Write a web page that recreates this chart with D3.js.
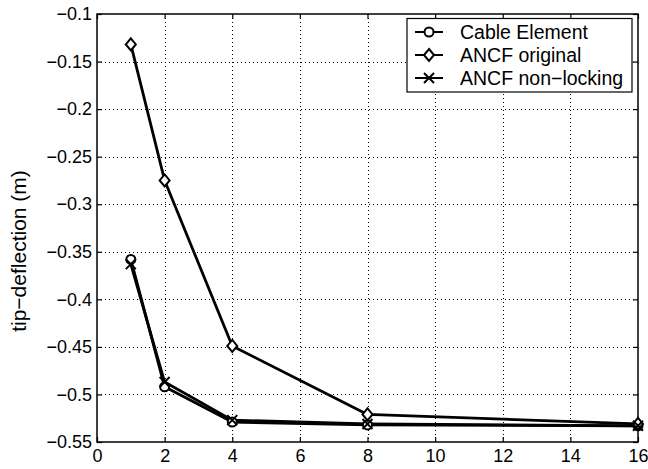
<!DOCTYPE html>
<meta charset='utf-8'>
<title>tip deflection</title>
<style>
html, body { margin: 0; padding: 0; background: #fff; }
text { font-family: 'Liberation Sans', Arial, sans-serif; fill: #000; }
</style>
<script src='https://d3js.org/d3.v7.min.js'></script>
<body>
<svg id='chart' width='648' height='469'></svg>
<script>
// Number of elements
var elements = [1, 2, 4, 8, 16];
var cableElement = [-0.358, -0.492, -0.529, -0.532, -0.533];
var ancfOriginal = [-0.132, -0.275, -0.449, -0.521, -0.531];
var ancfNonLocking = [-0.363, -0.487, -0.527, -0.531, -0.533];

var xTicks = [0, 2, 4, 6, 8, 10, 12, 14, 16];
var yTicks = [-0.55, -0.5, -0.45, -0.4, -0.35, -0.3, -0.25, -0.2, -0.15, -0.1];
var yTickLabels = ['\u22120.55', '\u22120.5', '\u22120.45', '\u22120.4', '\u22120.35', '\u22120.3', '\u22120.25', '\u22120.2', '\u22120.15', '\u22120.1'];
var seriesNames = ['Cable Element', 'ANCF original', 'ANCF non\u2212locking'];
var yLabel = 'tip\u2212deflection (m)';

// plot box (don't call it "top", that's window.top)
var pLeft = 97, pRight = 638, pTop = 14, pBottom = 442;
var svg = d3.select('#chart');

var x = d3.scaleLinear().domain([0, 16]).range([pLeft, pRight]);
var y = d3.scaleLinear().domain([-0.55, -0.1]).range([pBottom, pTop]);

// Grid
var grid = svg.append('g').attr('stroke', '#000').attr('stroke-width', 1)
  .attr('stroke-dasharray', '1,3');
grid.selectAll('.gx').data(xTicks.slice(1, -1)).enter().append('line')
  .attr('x1', d => Math.round(x(d)) + 0.5).attr('x2', d => Math.round(x(d)) + 0.5)
  .attr('y1', pTop).attr('y2', pBottom);
grid.selectAll('.gy').data(yTicks.slice(1, -1)).enter().append('line')
  .attr('y1', d => Math.round(y(d)) + 0.5).attr('y2', d => Math.round(y(d)) + 0.5)
  .attr('x1', pLeft).attr('x2', pRight);

// Axes (ticks inward, on all four sides)
var fontSize = 18;
var font = "'Liberation Sans', Arial, sans-serif";
svg.append('g').attr('transform', 'translate(0,' + pBottom + ')')
  .call(d3.axisBottom(x).tickValues(xTicks).tickSizeInner(-5).tickSizeOuter(0).tickPadding(7))
  .call(g => g.select('.domain').remove())
  .call(g => g.selectAll('text').style('font-size', fontSize + 'px').style('font-family', font));
svg.append('g').attr('transform', 'translate(0,' + pTop + ')')
  .call(d3.axisTop(x).tickValues(xTicks).tickSizeInner(-5).tickSizeOuter(0).tickFormat(''))
  .call(g => g.select('.domain').remove());
svg.append('g').attr('transform', 'translate(' + pLeft + ',0)')
  .call(d3.axisLeft(y).tickValues(yTicks).tickSizeInner(-5).tickSizeOuter(0).tickPadding(5)
    .tickFormat((d, i) => yTickLabels[i]))
  .call(g => g.select('.domain').remove())
  .call(g => g.selectAll('text').style('font-size', fontSize + 'px').style('font-family', font));
svg.append('g').attr('transform', 'translate(' + pRight + ',0)')
  .call(d3.axisRight(y).tickValues(yTicks).tickSizeInner(-5).tickSizeOuter(0).tickFormat(''))
  .call(g => g.select('.domain').remove());
svg.selectAll('.tick line').attr('stroke-width', 1.2);

// Box
svg.append('rect').attr('x', pLeft).attr('y', pTop)
  .attr('width', pRight - pLeft).attr('height', pBottom - pTop)
  .attr('fill', 'none').attr('stroke', '#000').attr('stroke-width', 1.5);

// Y label
svg.append('text')
  .attr('transform', 'translate(26,251)rotate(-90)')
  .attr('text-anchor', 'middle').style('font-size', '21px')
  .text(yLabel);

// Markers
function drawMarker(g, kind) {
  if (kind === 'circle') {
    g.append('circle').attr('r', 4.5).attr('fill', '#fff').attr('stroke', '#000').attr('stroke-width', 2);
  } else if (kind === 'diamond') {
    g.append('path').attr('d', 'M0,-6L5,0L0,6L-5,0Z').attr('fill', '#fff').attr('stroke', '#000').attr('stroke-width', 2);
  } else {
    g.append('path').attr('d', 'M-5,-5L5,5M-5,5L5,-5').attr('stroke', '#000').attr('stroke-width', 2);
  }
}

var series = [
  { name: seriesNames[0], values: cableElement, marker: 'circle' },
  { name: seriesNames[1], values: ancfOriginal, marker: 'diamond' },
  { name: seriesNames[2], values: ancfNonLocking, marker: 'cross' }
];

var line = d3.line().x((d, i) => x(elements[i])).y(d => y(d));
series.forEach(function (s) {
  svg.append('path').datum(s.values).attr('d', line)
    .attr('fill', 'none').attr('stroke', '#000').attr('stroke-width', 2.8)
    .attr('stroke-linejoin', 'round');
});
series.forEach(function (s) {
  s.values.forEach(function (v, i) {
    var g = svg.append('g').attr('transform', 'translate(' + x(elements[i]) + ',' + y(v) + ')');
    drawMarker(g, s.marker);
  });
});

// Legend
var lg = svg.append('g').attr('transform', 'translate(407,18.5)');
lg.append('rect').attr('width', 225).attr('height', 73.5)
  .attr('fill', '#fff').attr('stroke', '#000').attr('stroke-width', 1.2);
series.forEach(function (s, i) {
  var yy = 13.5 + i * 23;
  lg.append('line').attr('x1', 8).attr('x2', 36).attr('y1', yy).attr('y2', yy)
    .attr('stroke', '#000').attr('stroke-width', 2);
  drawMarker(lg.append('g').attr('transform', 'translate(22,' + yy + ')'), s.marker);
  lg.append('text').attr('x', 53).attr('y', yy).attr('dy', '0.35em')
    .style('font-size', '19.5px').text(s.name);
});
</script>
</body>
